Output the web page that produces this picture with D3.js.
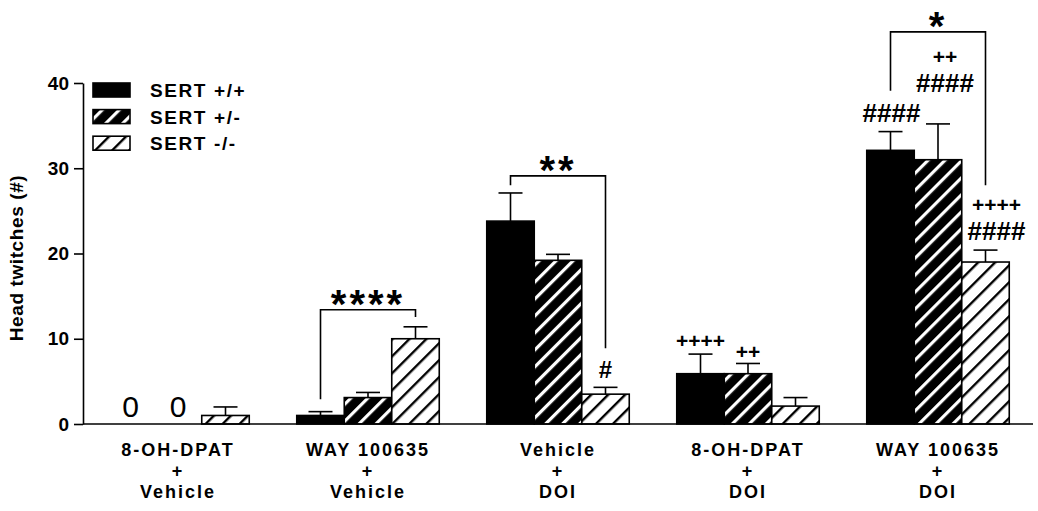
<!DOCTYPE html>
<html>
<head>
<meta charset="utf-8">
<script src="https://cdn.jsdelivr.net/npm/d3@7"></script>
<style>
  body { margin: 0; background: white; }
  svg text { font-family: "Liberation Sans", Arial, sans-serif; }
</style>
</head>
<body>
<svg id="chart" width="1038" height="511"></svg>
<script>
// treatment groups (each label drawn on three lines)
const groups = ["g1", "g2", "g3", "g4", "g5"];
const groupLabels = [
    ["8-OH-DPAT", "+", "Vehicle"],
    ["WAY 100635", "+", "Vehicle"],
    ["Vehicle", "+", "DOI"],
    ["8-OH-DPAT", "+", "DOI"],
    ["WAY 100635", "+", "DOI"]
];
const series = ["SERT +/+", "SERT +/-", "SERT -/-"];

// means and SEM
const meanWT  = [0, 1.0, 23.8, 5.9, 32.1];
const meanHet = [0, 3.1, 19.2, 5.9, 31.0];
const meanKO  = [1.0, 10.0, 3.5, 2.1, 19.0];
const semWT  = [0, 0.45, 3.3, 2.3, 2.2];
const semHet = [0, 0.6, 0.7, 1.2, 4.2];
const semKO  = [1.0, 1.4, 0.8, 1.0, 1.4];

const yTicks = [0, 10, 20, 30, 40];

// zero labels above empty bars
const zeroGroup = [0, 0];
const zeroSeries = [0, 1];

// significance brackets: group, from series, to series, top, left end, right end, label
const bracketGroup = [1, 2, 4];
const bracketFrom = [0, 0, 0];
const bracketTo = [2, 2, 2];
const bracketTop = [13.4, 29.1, 46.0];
const bracketLeftEnd = [2.9, 28.0, 39.1];
const bracketRightEnd = [12.55, 8.9, 28.0];
const bracketLabel = ["****", "**", "*"];

// marks above single bars: group, series, level of the lowest line, lines
const markGroup = [2, 3, 3, 4, 4, 4];
const markSeries = [2, 0, 1, 0, 1, 2];
const markLevel = [5.34, 8.86, 7.68, 35.4, 38.9, 21.6];
const markLines = [["#"], ["++++"], ["++"], ["####"], ["++", "####"], ["++++", "####"]];

// small sideways nudges so marks clear the bracket legs (px)
const markNudge = [0, 0, 0, 1, 7, 11];

const svg = d3.select("#chart");
const x0 = 83, x1 = 1033, yBase = 424, yTop = 83;

const x = d3.scaleBand().domain(groups).range([x0, x1]).paddingInner(0.25).paddingOuter(0.125);
const xs = d3.scaleBand().domain(d3.range(series.length)).range([0, x.bandwidth()]);
const y = d3.scaleLinear().domain([0, 40]).range([yBase, yTop]);

const means = [meanWT, meanHet, meanKO];
const sems = [semWT, semHet, semKO];
const fills = ["#000", "url(#hatchHet)", "url(#hatchKO)"];

// hatch patterns
const defs = svg.append("defs");
defs.append("pattern")
    .attr("id", "hatchHet")
    .attr("patternUnits", "userSpaceOnUse")
    .attr("width", 12).attr("height", 12)
    .attr("patternTransform", "rotate(45)")
    .call(p => {
        p.append("rect").attr("width", 12).attr("height", 12).attr("fill", "#000");
        p.append("rect").attr("x", 0).attr("width", 3.2).attr("height", 12).attr("fill", "#fff");
    });
defs.append("pattern")
    .attr("id", "hatchKO")
    .attr("patternUnits", "userSpaceOnUse")
    .attr("width", 12).attr("height", 12)
    .attr("patternTransform", "rotate(45)")
    .call(p => {
        p.append("rect").attr("width", 12).attr("height", 12).attr("fill", "#fff");
        p.append("rect").attr("x", 0).attr("width", 2.4).attr("height", 12).attr("fill", "#000");
    });

function barX(g, s) { return x(groups[g]) + xs(s); }
function barMid(g, s) { return barX(g, s) + xs.bandwidth() / 2; }

// bars and error bars
series.forEach(function (name, s) {
    const rows = groups.map((g, i) => ({ g: i, v: means[s][i], e: sems[s][i] }));
    const layer = svg.append("g");

    layer.selectAll("line.err")
        .data(rows.filter(d => d.e > 0))
        .enter().append("line")
        .attr("x1", d => barMid(d.g, s)).attr("x2", d => barMid(d.g, s))
        .attr("y1", d => y(d.v)).attr("y2", d => y(d.v + d.e))
        .attr("stroke", "#000").attr("stroke-width", 1.6);
    layer.selectAll("line.cap")
        .data(rows.filter(d => d.e > 0))
        .enter().append("line")
        .attr("x1", d => barMid(d.g, s) - 12).attr("x2", d => barMid(d.g, s) + 12)
        .attr("y1", d => y(d.v + d.e)).attr("y2", d => y(d.v + d.e))
        .attr("stroke", "#000").attr("stroke-width", 1.6);

    layer.selectAll("rect")
        .data(rows.filter(d => d.v > 0))
        .enter().append("rect")
        .attr("x", d => barX(d.g, s))
        .attr("y", d => y(d.v))
        .attr("width", xs.bandwidth())
        .attr("height", d => y(0) - y(d.v))
        .attr("fill", fills[s])
        .attr("stroke", "#000")
        .attr("stroke-width", 1.6);
});

// y axis
const yAxis = d3.axisLeft(y).tickValues(yTicks).tickSize(9).tickPadding(5).tickSizeOuter(0);
const ay = svg.append("g").attr("transform", "translate(" + x0 + ",0)").call(yAxis);
ay.select(".domain").attr("stroke-width", 1.6);
ay.selectAll(".tick line").attr("stroke-width", 1.6);
ay.selectAll(".tick text")
    .style("font-size", "19px").style("font-weight", "bold")
    .attr("fill", "#000");

// x axis baseline
svg.append("line")
    .attr("x1", x0).attr("x2", x1)
    .attr("y1", y(0)).attr("y2", y(0))
    .attr("stroke", "#000").attr("stroke-width", 1.6);

// group labels
groupLabels.forEach(function (lines, i) {
    const t = svg.append("text")
        .attr("x", x(groups[i]) + x.bandwidth() / 2)
        .attr("text-anchor", "middle")
        .style("font-size", "18px").style("font-weight", "bold")
        .style("letter-spacing", "2px");
    lines.forEach(function (l, k) {
        t.append("tspan")
            .attr("x", x(groups[i]) + x.bandwidth() / 2)
            .attr("y", 456 + k * 21)
            .text(l);
    });
});

// axis title
svg.append("text")
    .attr("transform", "translate(23,258) rotate(-90)")
    .attr("text-anchor", "middle")
    .style("font-size", "19px").style("font-weight", "bold")
    .style("letter-spacing", "0.6px")
    .text("Head twitches (#)");

// zero labels
svg.selectAll("text.zero")
    .data(zeroGroup.map((g, i) => ({ g: g, s: zeroSeries[i] })))
    .enter().append("text")
    .attr("x", d => barMid(d.g, d.s))
    .attr("y", y(0) - 7)
    .attr("text-anchor", "middle")
    .style("font-size", "30px")
    .text("0");

// brackets
bracketGroup.forEach(function (g, i) {
    const xa = barMid(g, bracketFrom[i]);
    const xb = barMid(g, bracketTo[i]);
    svg.append("path")
        .attr("d", d3.line()([[xa, y(bracketLeftEnd[i])], [xa, y(bracketTop[i])],
                              [xb, y(bracketTop[i])], [xb, y(bracketRightEnd[i])]]))
        .attr("fill", "none").attr("stroke", "#000").attr("stroke-width", 1.6);
    svg.append("text")
        .attr("x", x(groups[g]) + x.bandwidth() / 2)
        .attr("y", y(bracketTop[i]) + 8)
        .attr("text-anchor", "middle")
        .style("font-size", "40px").style("font-weight", "bold")
        .style("letter-spacing", "3px")
        .text(bracketLabel[i]);
});

// significance marks, stacked lines share one text element
markGroup.forEach(function (g, i) {
    const cx = barMid(g, markSeries[i]) + markNudge[i];
    const lines = markLines[i];
    const base = y(markLevel[i]);
    const t = svg.append("text")
        .attr("text-anchor", "middle")
        .style("font-weight", "bold");
    lines.forEach(function (l, k) {
        const isHash = l.indexOf("#") >= 0;
        t.append("tspan")
            .attr("x", cx)
            .attr("y", base - (lines.length - 1 - k) * 28)
            .style("font-size", isHash ? (l.length > 1 ? "26px" : "24px") : "21px")
            .text(l);
    });
});

// legend
const legend = svg.append("g").attr("transform", "translate(93,83)");
series.forEach(function (name, s) {
    legend.append("rect")
        .attr("x", 0).attr("y", s * 26.6)
        .attr("width", 37).attr("height", 14)
        .attr("fill", fills[s]).attr("stroke", "#000").attr("stroke-width", 1.6);
    legend.append("text")
        .attr("x", 57).attr("y", s * 26.6 + 14)
        .style("font-size", "19px").style("font-weight", "bold")
        .style("letter-spacing", "1.6px")
        .text(name);
});
</script>
</body>
</html>
